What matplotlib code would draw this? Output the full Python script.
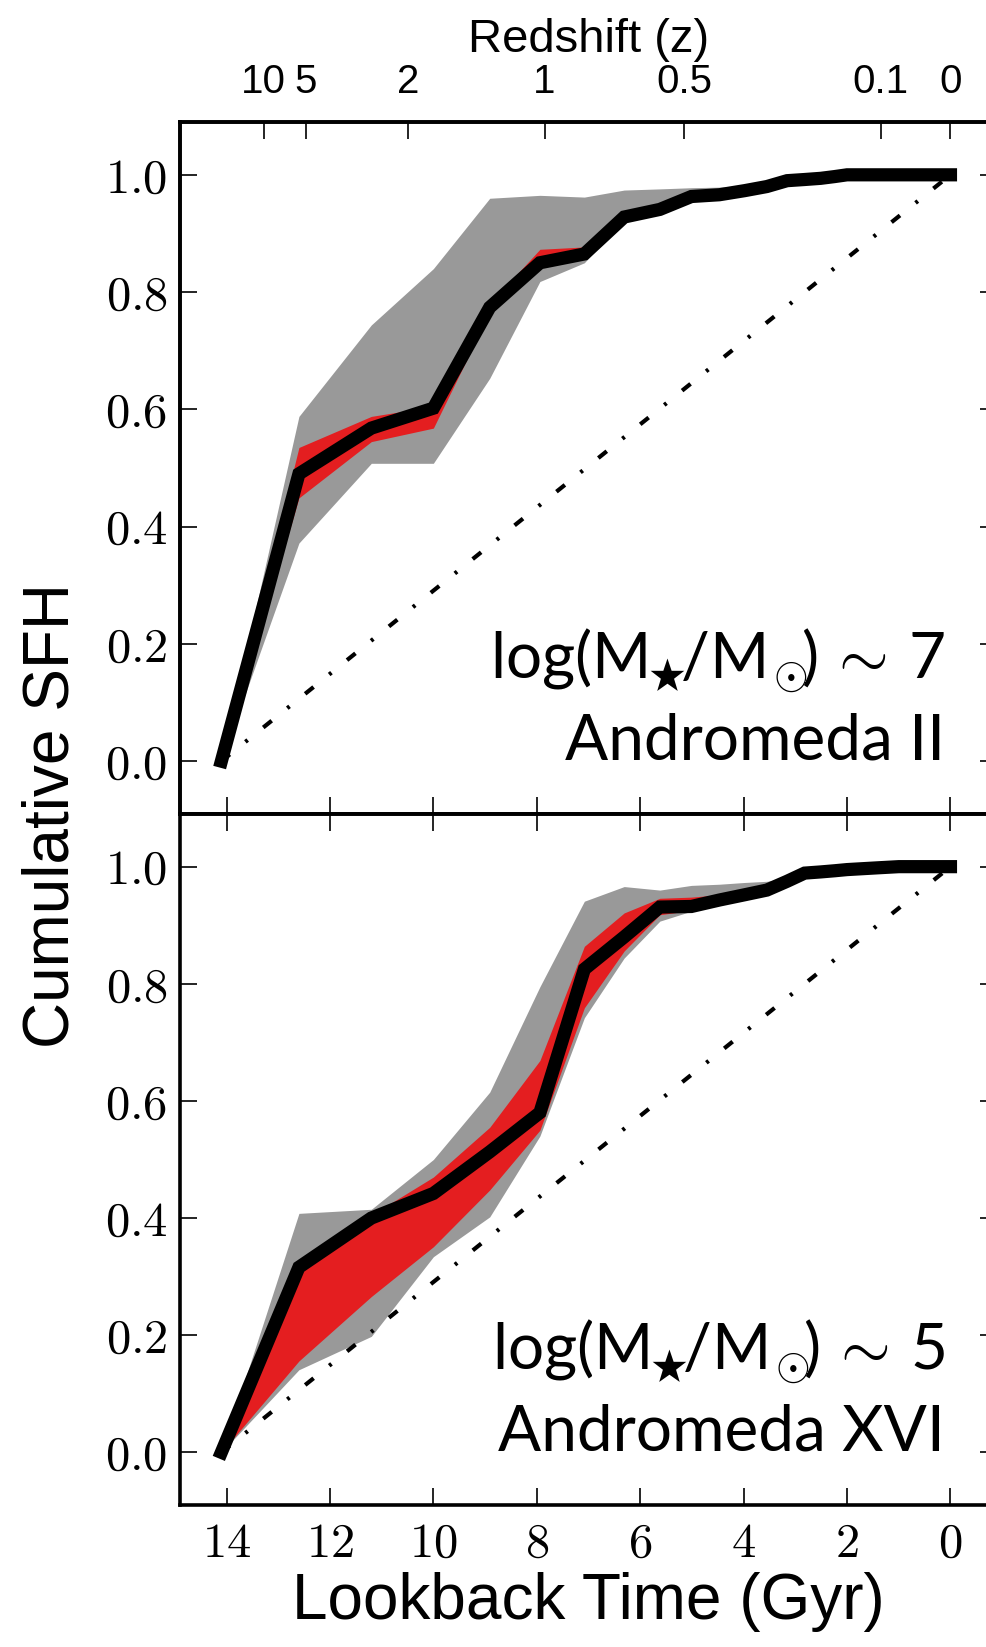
import numpy as np
import matplotlib
matplotlib.use('Agg')
import matplotlib.pyplot as plt
from matplotlib.ticker import FuncFormatter

plt.rcParams['mathtext.fontset'] = 'cm'
plt.rcParams['font.family'] = ['Liberation Sans', 'DejaVu Sans']

# Lookback-Zeit der Bins (Gyr)
lookback = [14.1, 12.6, 11.2, 10.0, 8.91, 7.94, 7.08, 6.31, 5.62, 5.01, 4.47,
            3.98, 3.55, 3.16, 2.82, 2.51, 2.24, 2.0, 1.41, 1.0, 0.0]

# Andromeda II
and2_sfh = [0, 0.49, 0.568, 0.602, 0.774, 0.85, 0.865, 0.928, 0.941, 0.963, 0.966,
            0.973, 0.98, 0.99, 0.992, 0.994, 0.997, 1.0, 1.0, 1.0, 1.0]
and2_red_lo = [0, 0.449, 0.545, 0.568, 0.765, 0.845, 0.86, 0.925, 0.94, 0.962, 0.965,
               0.972, 0.979, 0.99, 0.992, 0.994, 0.997, 1, 1, 1, 1]
and2_red_hi = [0, 0.535, 0.588, 0.605, 0.78, 0.873, 0.877, 0.936, 0.948, 0.966, 0.968,
               0.975, 0.982, 0.991, 0.993, 0.995, 0.998, 1, 1, 1, 1]
and2_gray_lo = [0, 0.372, 0.508, 0.508, 0.653, 0.818, 0.85, 0.925, 0.938, 0.96, 0.963,
                0.971, 0.978, 0.989, 0.991, 0.993, 0.996, 1, 1, 1, 1]
and2_gray_hi = [0, 0.588, 0.744, 0.840, 0.960, 0.965, 0.962, 0.974, 0.976, 0.978, 0.979,
                0.981, 0.985, 0.992, 0.994, 0.996, 0.998, 1, 1, 1, 1]

# Andromeda XVI
and16_sfh = [0, 0.316, 0.40, 0.442, 0.513, 0.58, 0.825, 0.88, 0.931, 0.932, 0.943,
             0.952, 0.96, 0.975, 0.989, 0.991, 0.993, 0.995, 0.998, 1.0, 1.0]
and16_red_lo = [0, 0.156, 0.266, 0.351, 0.448, 0.55, 0.759, 0.856, 0.918, 0.925, 0.938,
                0.948, 0.956, 0.972, 0.987, 0.989, 0.992, 0.994, 0.997, 1, 1]
and16_red_hi = [0, 0.312, 0.405, 0.47, 0.555, 0.669, 0.864, 0.921, 0.946, 0.948, 0.952,
                0.958, 0.965, 0.978, 0.991, 0.993, 0.995, 0.997, 0.999, 1, 1]
and16_gray_lo = [0, 0.141, 0.198, 0.334, 0.402, 0.54, 0.742, 0.844, 0.907, 0.924, 0.936,
                 0.946, 0.954, 0.97, 0.986, 0.988, 0.991, 0.993, 0.997, 1, 1]
and16_gray_hi = [0, 0.408, 0.415, 0.50, 0.615, 0.795, 0.941, 0.966, 0.96, 0.968, 0.970,
                 0.973, 0.975, 0.98, 0.992, 0.994, 0.996, 0.997, 0.999, 1, 1]

# Rotverschiebungs-Achse oben
redshift_ticks = [10, 5, 2, 1, 0.5, 0.1, 0]
redshift_lookback = [13.28, 12.47, 10.49, 7.85, 5.15, 1.35, 0.0]

panels = [
    (and2_sfh, and2_red_lo, and2_red_hi, and2_gray_lo, and2_gray_hi, 7, 'Andromeda II'),
    (and16_sfh, and16_red_lo, and16_red_hi, and16_gray_lo, and16_gray_hi, 5, 'Andromeda XVI'),
]

fig = plt.figure(figsize=(9.86, 16.47), dpi=100)
left = 180 / 986
width = 817 / 986
ax1 = fig.add_axes([left, 0.5058, width, 0.9259 - 0.5058])
ax2 = fig.add_axes([left, 0.0862, width, 0.5058 - 0.0862])

for ax, (sfh, rlo, rhi, glo, ghi, mass, name) in zip([ax1, ax2], panels):
    ax.fill_between(lookback, glo, ghi, color='#999999', lw=0, zorder=1)
    ax.fill_between(lookback, rlo, rhi, color='#e41e20', lw=0, zorder=2)
    ax.plot([lookback[0], lookback[-1]], [0, 1], color='black', lw=3,
            linestyle=(0, (2.6, 4.8, 0.7, 4.8)), zorder=3)
    ax.plot(lookback, sfh, color='black', lw=9.5, zorder=4, solid_joinstyle='miter')

    ax.set_xlim(14.9, -0.9)
    ax.set_ylim(-0.09, 1.09)
    ax.set_xticks(np.arange(0, 15, 2))
    ax.set_yticks(np.arange(0, 1.01, 0.2))
    ax.yaxis.set_major_formatter(FuncFormatter(lambda v, p: r'$%.1f$' % v))
    ax.xaxis.set_major_formatter(FuncFormatter(lambda v, p: r'$%d$' % round(v)))
    ax.tick_params(direction='in', length=12, width=1.2, labelsize=35,
                   left=True, right=True, top=True, bottom=True)
    ax.tick_params(axis='y', pad=9)
    ax.tick_params(axis='x', pad=12)
    for s in ax.spines.values():
        s.set_linewidth(2.6)

    ax.text(0.1, 0.14, r'log(M$_{\!\bigstar}\!$/M$_{\!\odot}\!\!$)$\,\sim\,$%d' % mass,
            fontsize=46, family=['Lato', 'DejaVu Sans'], ha='right', va='baseline', zorder=5)
    ax.text(0.1, 0.003, name, fontsize=46, family=['Lato', 'DejaVu Sans'],
            ha='right', va='baseline', zorder=5)

ax1.tick_params(top=False, labelbottom=False)

# Redshift oben
axz = ax1.twiny()
axz.set_xlim(ax1.get_xlim())
axz.set_xticks(redshift_lookback)
axz.set_xticklabels(['%g' % z for z in redshift_ticks])
axz.tick_params(direction='in', length=12, width=1.2, labelsize=29, pad=15)
axz.set_xlabel('Redshift (z)', fontsize=34, labelpad=8)
for s in axz.spines.values():
    s.set_linewidth(2.6)

ax2.set_xlabel('Lookback Time (Gyr)', fontsize=46, labelpad=4)
fig.text(0.022, 0.5046, 'Cumulative SFH', fontsize=46, rotation=90,
         ha='left', va='center')

plt.savefig('out.png', dpi=100)
